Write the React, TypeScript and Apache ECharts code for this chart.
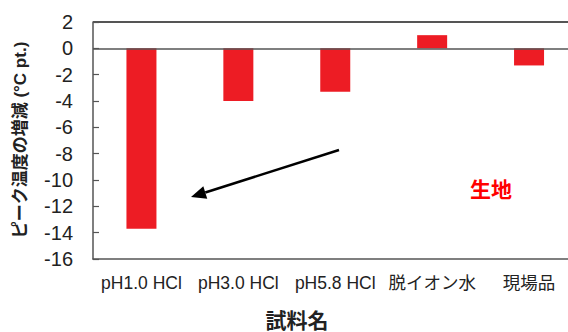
import React, { useEffect, useRef } from "react";
import * as echarts from "echarts";

const categories = ["pH1.0 HCl", "pH3.0 HCl", "pH5.8 HCl", "脱イオン水", "現場品"];
const values = [-13.7, -4.0, -3.3, 1.0, -1.3];
const yTicks = { min: -16, max: 2, interval: 2 };
const refLines = [0, 2];
const xTitle = "試料名";
const yTitle = "ピーク温度の増減 (°C pt.)";
const note = "生地";

export default function App() {
  const ref = useRef<HTMLDivElement>(null);
  useEffect(() => {
    document.body.style.margin = "0";
    const chart = echarts.init(ref.current!, null, { renderer: "svg" });
    const font = "'Liberation Sans', Arial, 'Noto Sans CJK JP', sans-serif";
    const tip = [191, 197];
    const start = [339, 150];
    const dx = tip[0] - start[0];
    const dy = tip[1] - start[1];
    const len = Math.sqrt(dx * dx + dy * dy);
    const ux = dx / len, uy = dy / len;
    const hl = 15, hw = 6.5;
    const bx = tip[0] - hl * ux, by = tip[1] - hl * uy;
    const nx = -uy, ny = ux;
    const lineStyle = { color: "#555", width: 1.5 };
    const gridLeft = 93;
    const gridTop = 22;
    chart.setOption({
      animation: false,
      grid: {
        left: gridLeft,
        top: gridTop,
        width: 484.5,
        height: 237,
        outerBoundsMode: "none",
        containLabel: false,
      },
      xAxis: {
        type: "category",
        data: categories,
        position: "bottom",
        axisLine: { onZero: false, lineStyle },
        axisTick: { show: false },
        axisLabel: { color: "#222", fontSize: 17.5, fontFamily: font, margin: 15, interval: 0 },
      },
      yAxis: {
        type: "value",
        min: yTicks.min,
        max: yTicks.max,
        interval: yTicks.interval,
        axisLine: { show: true, lineStyle },
        axisTick: { show: true, inside: true, length: 6, lineStyle: { color: "#555", width: 1.2 } },
        axisLabel: { color: "#222", fontSize: 20, fontFamily: font, margin: 20 },
        splitLine: { show: false },
      },
      series: [
        {
          type: "bar",
          data: values,
          barWidth: 30,
          clip: false,
          itemStyle: { color: "#ED1C24" },
          markLine: {
            silent: true,
            symbol: "none",
            label: { show: false },
            lineStyle: { color: "#555", width: 1.5, type: "solid" },
            data: refLines.map((v) => ({ yAxis: v })),
          },
        },
      ],
      graphic: [
        {
          type: "rect",
          z: 100,
          shape: { x: gridLeft, y: gridTop - 1, width: 568 - gridLeft, height: 2 },
          style: { fill: "#555" },
        },
        {
          type: "text",
          x: 20,
          y: 140,
          rotation: Math.PI / 2,
          style: {
            text: yTitle,
            fontSize: 17,
            fontWeight: "bold",
            fontFamily: font,
            fill: "#222",
            align: "center",
            verticalAlign: "middle",
          },
        },
        {
          type: "text",
          x: 297,
          y: 320,
          style: {
            text: xTitle,
            fontSize: 21,
            fontWeight: "bold",
            fontFamily: font,
            fill: "#222",
            align: "center",
            verticalAlign: "middle",
          },
        },
        {
          type: "text",
          x: 491,
          y: 189,
          style: {
            text: note,
            fontSize: 21,
            fontWeight: "bold",
            fontFamily: font,
            fill: "#FF0000",
            align: "center",
            verticalAlign: "middle",
          },
        },
        {
          type: "line",
          shape: { x1: start[0], y1: start[1], x2: bx, y2: by },
          style: { stroke: "#000", lineWidth: 2.5 },
        },
        {
          type: "polygon",
          shape: {
            points: [
              [tip[0], tip[1]],
              [bx + hw * nx, by + hw * ny],
              [bx - hw * nx, by - hw * ny],
            ],
          },
          style: { fill: "#000" },
        },
      ],
    });
    return () => chart.dispose();
  }, []);
  return <div ref={ref} style={{ width: 568, height: 332 }} />;
}
